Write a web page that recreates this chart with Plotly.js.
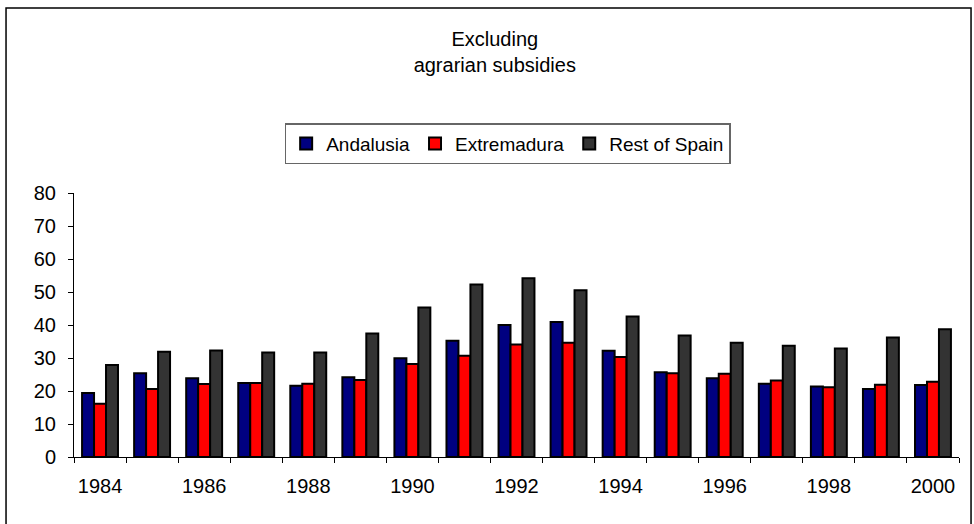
<!DOCTYPE html>
<html>
<head>
<meta charset="utf-8">
<script src="https://cdn.plot.ly/plotly-3.0.1.min.js"></script>
<style>
  html, body { margin: 0; padding: 0; background: #fff; }
  #chart { width: 974px; height: 524px; }
</style>
</head>
<body>
<div id="chart"></div>
<script>
// Data
const years = ['1984', '1985', '1986', '1987', '1988', '1989', '1990', '1991', '1992',
               '1993', '1994', '1995', '1996', '1997', '1998', '1999', '2000'];
const yearLabels = ['1984', '', '1986', '', '1988', '', '1990', '', '1992',
                    '', '1994', '', '1996', '', '1998', '', '2000'];

const andalusia   = [19.4, 25.4, 23.9, 22.4, 21.6, 24.2, 29.9, 35.2, 40.0,
                     40.9, 32.2, 25.7, 23.9, 22.2, 21.4, 20.6, 21.8];
const extremadura = [16.1, 20.6, 22.1, 22.4, 22.2, 23.3, 28.2, 30.7, 34.1,
                     34.6, 30.3, 25.4, 25.2, 23.2, 21.1, 21.9, 22.8];
const restOfSpain = [27.9, 31.9, 32.3, 31.7, 31.7, 37.4, 45.3, 52.3, 54.2,
                     50.5, 42.6, 36.8, 34.6, 33.7, 32.9, 36.2, 38.7];

const seriesNames = ['Andalusia', 'Extremadura', 'Rest of Spain'];
const seriesColors = ['#000080', '#ff0000', '#333333'];
const seriesValues = [andalusia, extremadura, restOfSpain];

const FONT = 'Liberation Sans, Arial, sans-serif';

// one bar trace per series
const traces = seriesValues.map((vals, i) => ({
    x: years,
    y: vals,
    type: 'bar',
    name: seriesNames[i],
    marker: {
        color: seriesColors[i],
        line: { color: '#000000', width: 2 }
    },
    hoverinfo: 'x+y+name'
}));

const layout = {
    width: 974,
    height: 524,
    margin: { l: 74, r: 15, t: 193, b: 67 },
    paper_bgcolor: '#ffffff',
    plot_bgcolor: '#ffffff',
    font: { family: FONT, size: 20, color: '#000000' },

    title: {
        text: 'Excluding<br>agrarian subsidies',
        font: { family: FONT, size: 20, color: '#000000' },
        x: 0.508,
        xanchor: 'center',
        y: 0.912,
        yanchor: 'top'
    },

    barmode: 'group',
    bargap: 0.31,
    bargroupgap: 0,

    xaxis: {
        type: 'category',
        tickmode: 'array',
        tickvals: years,
        ticktext: yearLabels,
        tickson: 'boundaries',
        tickangle: 0,
        ticks: 'outside',
        ticklen: 5,
        tickwidth: 1,
        tickcolor: '#000000',
        showline: true,
        linecolor: '#000000',
        linewidth: 1,
        showgrid: false,
        zeroline: false,
        ticklabelstandoff: 11,
        tickfont: { family: FONT, size: 20, color: '#000000' }
    },

    yaxis: {
        range: [0, 80],
        dtick: 10,
        ticks: 'outside',
        ticklen: 5,
        tickwidth: 1,
        tickcolor: '#000000',
        showline: true,
        linecolor: '#000000',
        linewidth: 1,
        showgrid: false,
        zeroline: false,
        ticklabelstandoff: 8,
        tickfont: { family: FONT, size: 20, color: '#000000' }
    },

    showlegend: true,
    legend: {
        orientation: 'h',
        x: 0.49,
        xanchor: 'center',
        y: 1.265,
        yanchor: 'top',
        bordercolor: '#666666',
        borderwidth: 1.5,
        bgcolor: '#ffffff',
        font: { family: FONT, size: 19, color: '#000000' },
        itemwidth: 30,
        traceorder: 'normal'
    },

    // outer chart frame
    shapes: [{
        type: 'rect',
        xref: 'paper',
        yref: 'paper',
        x0: -0.0768,
        x1: 1.0136,
        y0: -0.30,
        y1: 1.7008,
        line: { color: '#000000', width: 1.5 },
        fillcolor: 'rgba(0,0,0,0)',
        layer: 'below'
    }]
};

const config = {
    responsive: false,
    displayModeBar: false
};

Plotly.newPlot('chart', traces, layout, config);
</script>
</body>
</html>
